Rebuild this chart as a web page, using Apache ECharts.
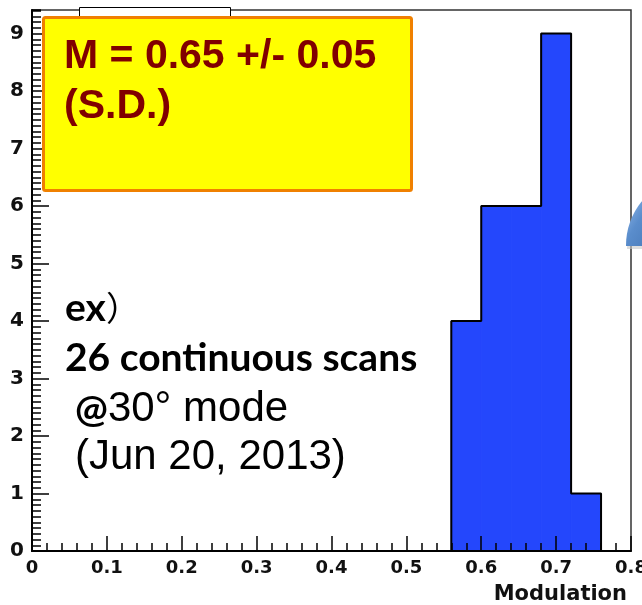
<!DOCTYPE html>
<html>
<head>
<meta charset="utf-8">
<script src="https://cdn.jsdelivr.net/npm/echarts@6/dist/echarts.min.js"></script>
<style>
  html, body { margin: 0; padding: 0; background: #fff; }
  #chart { width: 642px; height: 605px; }
</style>
</head>
<body>
<div id="chart"></div>
<script>
// Histogram of modulation values from 26 scans
const binEdges = [0.56, 0.60, 0.64, 0.68, 0.72, 0.76];
const binCounts = [4, 6, 6, 9, 1];

// Axis tick labels
const xTickLabels = ['0', '0.1', '0.2', '0.3', '0.4', '0.5', '0.6', '0.7', '0.8'];
const yTickLabels = ['0', '1', '2', '3', '4', '5', '6', '7', '8', '9'];

// Histogram rectangles: [lowEdge, highEdge, count]
const barData = binCounts.map((c, i) => [binEdges[i], binEdges[i + 1], c]);

// Outline traced around the histogram as a step path
const outline = [[binEdges[0], 0]];
binCounts.forEach((c, i) => {
  outline.push([binEdges[i], c]);
  outline.push([binEdges[i + 1], c]);
});
outline.push([binEdges[binEdges.length - 1], 0]);

const chart = echarts.init(document.getElementById('chart'), null, { renderer: 'canvas' });

const BAR_BLUE = '#2447FC';

chart.setOption({
  animation: false,
  backgroundColor: '#fff',
  grid: {
    left: 32, right: 11, top: 10, bottom: 54,
    outerBoundsMode: 'none', containLabel: false,
    show: true, borderColor: '#333', borderWidth: 1.5, backgroundColor: 'transparent'
  },
  xAxis: [{
    type: 'value', min: 0, max: 0.8, interval: 0.1, z: 5,
    axisLine: { show: true, onZero: false, lineStyle: { color: '#000', width: 2 } },
    axisTick: { show: true, inside: true, length: 15, lineStyle: { color: '#000', width: 1.5 } },
    minorTick: { show: true, splitNumber: 5, length: 8, lineStyle: { color: '#000', width: 1.5 } },
    splitLine: { show: false },
    axisLabel: {
      margin: 8, hideOverlap: false,
      fontFamily: 'DejaVu Sans', fontWeight: 'bold', fontSize: 18, color: '#111',
      formatter: (v) => xTickLabels[Math.round(v * 10)] ?? ''
    }
  }],
  yAxis: [{
    type: 'value', min: 0, max: 9.41, interval: 1, z: 5,
    axisLine: { show: true, onZero: false, lineStyle: { color: '#000', width: 2 } },
    axisTick: { show: true, inside: true, length: 17, lineStyle: { color: '#000', width: 1.5 } },
    splitLine: { show: false },
    axisLabel: {
      margin: 8, showMaxLabel: false, padding: [6, 0, 0, 0],
      fontFamily: 'DejaVu Sans', fontWeight: 'bold', fontSize: 20, color: '#111',
      formatter: (v) => (Number.isInteger(v) ? (yTickLabels[v] ?? '') : '')
    }
  }, {
    type: 'value', position: 'left', offset: 0, min: 0, max: 9.41, interval: 0.1, z: 5,
    axisLine: { show: false },
    axisTick: { show: true, inside: true, length: 9, lineStyle: { color: '#000', width: 1.5 } },
    axisLabel: { show: false },
    splitLine: { show: false }
  }],
  series: [{
    type: 'custom',
    data: barData,
    encode: { x: [0, 1], y: 2 },
    z: 2,
    renderItem: (params, api) => {
      const top = api.coord([api.value(0), api.value(2)]);
      const bottom = api.coord([api.value(1), 0]);
      return {
        type: 'rect',
        shape: { x: top[0], y: top[1], width: bottom[0] - top[0], height: bottom[1] - top[1] },
        style: { fill: BAR_BLUE, stroke: BAR_BLUE, lineWidth: 1 }
      };
    }
  }, {
    type: 'line',
    data: outline,
    symbol: 'none',
    z: 3,
    lineStyle: { color: '#000', width: 2 }
  }],
  graphic: [
    // small title box peeking out from behind the annotation
    { type: 'rect', z: 50, shape: { x: 79.5, y: 7.5, width: 151, height: 22 },
      style: { fill: '#fff', stroke: '#000', lineWidth: 1 } },
    // yellow annotation box
    { type: 'rect', z: 60, shape: { x: 43.5, y: 17.5, width: 368, height: 173, r: 2 },
      style: { fill: '#FFFF00', stroke: '#F08000', lineWidth: 3 } },
    { type: 'text', z: 61, style: { text: 'M = 0.65 +/- 0.05', x: 64, y: 57,
        font: 'bold 41px "Liberation Sans", Arial, sans-serif', fill: '#800000',
        align: 'left', verticalAlign: 'middle' } },
    { type: 'text', z: 61, style: { text: '(S.D.)', x: 64, y: 107,
        font: 'bold 41px "Liberation Sans", Arial, sans-serif', fill: '#800000',
        align: 'left', verticalAlign: 'middle' } },
    // scan description
    { type: 'text', z: 61, style: { text: '{b|ex}{p|）}', x: 65, y: 308,
        align: 'left', verticalAlign: 'middle',
        rich: {
          b: { fontFamily: 'Lato', fontWeight: 'bold', fontSize: 39, fill: '#000' },
          p: { fontFamily: '"Noto Sans CJK JP"', fontWeight: 'normal', fontSize: 34, fill: '#000' }
        } } },
    { type: 'text', z: 61, style: { text: '26 continuous scans', x: 65, y: 358,
        font: 'bold 39px Lato, sans-serif', fill: '#000', align: 'left', verticalAlign: 'middle' } },
    { type: 'text', z: 61, style: { text: '{a|@}{r|30° mode}', x: 75, y: 409,
        align: 'left', verticalAlign: 'middle',
        rich: {
          a: { fontFamily: 'Lato', fontWeight: 'bold', fontSize: 39, fill: '#000' },
          r: { fontFamily: '"Liberation Sans"', fontSize: 42, fill: '#000' }
        } } },
    { type: 'text', z: 61, style: { text: '(Jun 20, 2013)', x: 75, y: 457,
        font: '42px "Liberation Sans", Arial, sans-serif', fill: '#000',
        align: 'left', verticalAlign: 'middle' } },
    // axis title
    { type: 'text', z: 61, style: { text: 'Modulation', x: 627, y: 595,
        font: 'bold 21px "DejaVu Sans", sans-serif', fill: '#111',
        align: 'right', verticalAlign: 'middle' } },
    // edge of a neighbouring shape at the right border
    { type: 'sector', z: 70, x: 1, y: 3,
      shape: { cx: 697.3, cy: 246, r0: 0, r: 71.3, startAngle: Math.PI, endAngle: Math.PI * 1.216, clockwise: true },
      style: { fill: '#c8c8c8', opacity: 0.6 } },
    { type: 'sector', z: 71,
      shape: { cx: 697.3, cy: 246, r0: 0, r: 71.3, startAngle: Math.PI, endAngle: Math.PI * 1.216, clockwise: true },
      style: { fill: { type: 'linear', x: 0, y: 0, x2: 1, y2: 1, global: false,
        colorStops: [{ offset: 0, color: '#8fb6e6' }, { offset: 0.25, color: '#5a8dcc' }, { offset: 1, color: '#2f5f9f' }] } } }
  ]
});
</script>
</body>
</html>
